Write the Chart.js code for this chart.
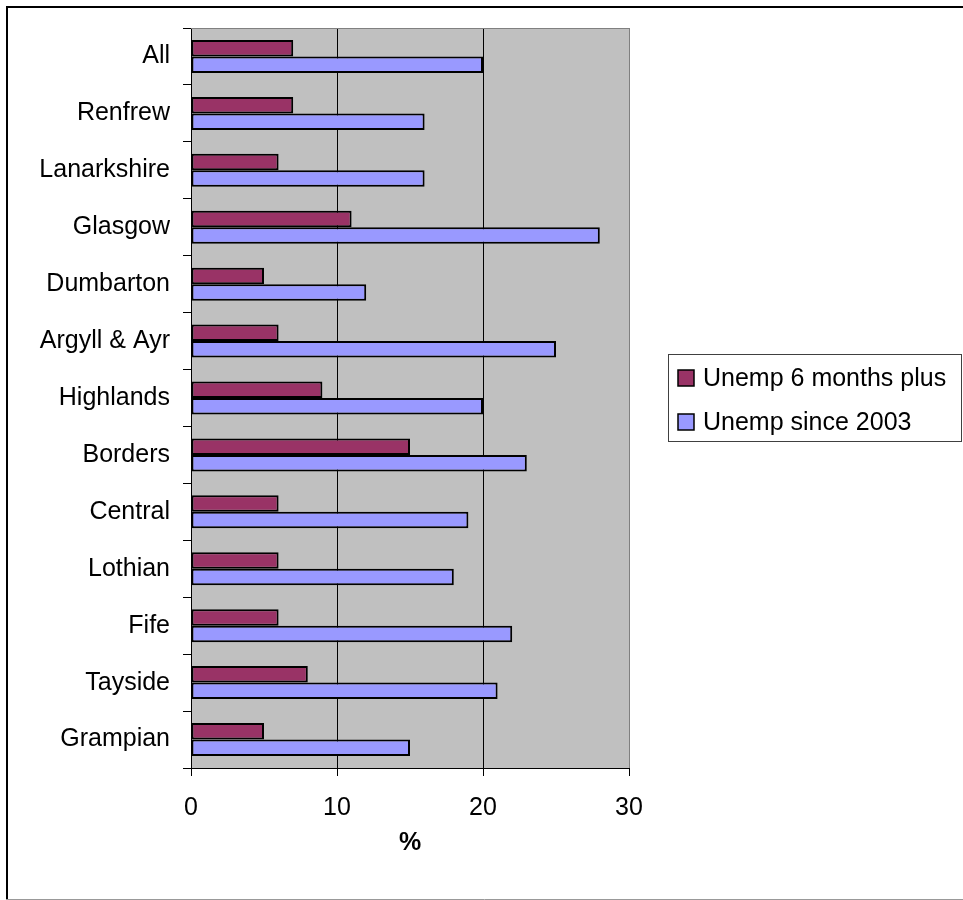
<!DOCTYPE html>
<html>
<head>
<meta charset="utf-8">
<script src="https://cdn.jsdelivr.net/npm/chart.js@4.4.0/dist/chart.umd.min.js"></script>
<style>
  body { margin: 0; background: #fff; }
  canvas { display: block; }
</style>
</head>
<body>
<canvas id="chart" width="963" height="900"></canvas>
<script>
const categories = ['All', 'Renfrew', 'Lanarkshire', 'Glasgow', 'Dumbarton', 'Argyll & Ayr',
  'Highlands', 'Borders', 'Central', 'Lothian', 'Fife', 'Tayside', 'Grampian']
const unemp6Months = [7, 7, 6, 11, 5, 6, 9, 15, 6, 6, 6, 8, 5]
const unempSince2003 = [20, 16, 16, 28, 12, 25, 20, 23, 19, 18, 22, 21, 15]
const seriesNames = ['Unemp 6 months plus', 'Unemp since 2003']
const seriesColors = ['#993366', '#9999FF']
const xTicks = [0, 10, 20, 30]

const FONT = 'Liberation Sans, Arial, sans-serif'

// gray plot area, outer frame, and the boxed legend on the right
const excelLook = {
  id: 'excelLook',
  beforeDraw(chart) {
    const { ctx, chartArea: a } = chart
    ctx.save()
    ctx.fillStyle = '#fff'
    ctx.fillRect(0, 0, chart.width, chart.height)
    ctx.fillStyle = '#C0C0C0'
    ctx.fillRect(a.left, a.top, a.right - a.left, a.bottom - a.top)
    ctx.restore()
  },
  afterDraw(chart) {
    const { ctx, chartArea: a } = chart
    ctx.save()
    // plot area top / right edge
    ctx.strokeStyle = '#808080'
    ctx.lineWidth = 1
    ctx.beginPath()
    ctx.moveTo(a.left, a.top + 0.5)
    ctx.lineTo(a.right + 0.5, a.top + 0.5)
    ctx.lineTo(a.right + 0.5, a.bottom)
    ctx.stroke()

    // outer chart frame
    ctx.strokeStyle = '#000'
    ctx.lineWidth = 2
    ctx.beginPath()
    ctx.moveTo(7, 899)
    ctx.lineTo(7, 7)
    ctx.lineTo(963, 7)
    ctx.stroke()
    ctx.strokeStyle = '#999'
    ctx.lineWidth = 1
    ctx.beginPath()
    ctx.moveTo(6, 899.5)
    ctx.lineTo(963, 899.5)
    ctx.stroke()

    // legend
    const lx = 668, ly = 354, lw = 293, lh = 87
    ctx.strokeStyle = '#404040'
    ctx.lineWidth = 1
    ctx.strokeRect(lx + 0.5, ly + 0.5, lw, lh)
    ctx.font = '25px ' + FONT
    ctx.textBaseline = 'middle'
    ctx.textAlign = 'left'
    chart.data.datasets.forEach((ds, i) => {
      const cy = 378 + i * 44
      ctx.fillStyle = ds.backgroundColor
      ctx.fillRect(678, cy - 8, 16, 16)
      ctx.strokeStyle = '#000'
      ctx.lineWidth = 1.5
      ctx.strokeRect(678, cy - 8, 16, 16)
      ctx.fillStyle = '#000'
      ctx.fillText(ds.label, 703, cy + 1)
    })
    ctx.restore()
  }
}

new Chart(document.getElementById('chart'), {
  type: 'bar',
  data: {
    labels: categories,
    datasets: [
      {
        label: seriesNames[0],
        data: unemp6Months,
        backgroundColor: seriesColors[0],
        borderColor: '#000',
        borderWidth: 2,
        borderSkipped: false
      },
      {
        label: seriesNames[1],
        data: unempSince2003,
        backgroundColor: seriesColors[1],
        borderColor: '#000',
        borderWidth: 2,
        borderSkipped: false
      }
    ]
  },
  options: {
    indexAxis: 'y',
    responsive: false,
    animation: false,
    categoryPercentage: 0.58,
    barPercentage: 1,
    layout: { padding: { top: 26, right: 334, bottom: 0, left: 0 } },
    plugins: {
      legend: { display: false },
      tooltip: { enabled: false }
    },
    scales: {
      x: {
        min: xTicks[0],
        max: xTicks[xTicks.length - 1],
        afterBuildTicks(scale) {
          scale.ticks = xTicks.map(v => ({ value: v }))
        },
        afterFit(scale) { scale.height = 132 },
        grid: {
          color: c => (c.tick && c.tick.value === 30 ? '#808080' : '#000'),
          tickColor: '#000',
          tickLength: 8,
          lineWidth: 1
        },
        border: { color: '#000', width: 1 },
        ticks: {
          color: '#000',
          font: { family: FONT, size: 25 },
          padding: 17,
          maxRotation: 0
        },
        title: {
          display: true,
          text: '%',
          color: '#000',
          font: { family: FONT, size: 25, weight: 'bold' },
          padding: { top: 0, bottom: 42 }
        }
      },
      y: {
        afterFit(scale) { scale.width = 191 },
        grid: {
          drawOnChartArea: false,
          drawTicks: true,
          tickLength: 8,
          tickColor: '#000',
          color: '#000'
        },
        border: { color: '#000', width: 1 },
        ticks: {
          color: '#000',
          font: { family: FONT, size: 25 },
          padding: 13
        }
      }
    }
  },
  plugins: [excelLook]
})
</script>
</body>
</html>
